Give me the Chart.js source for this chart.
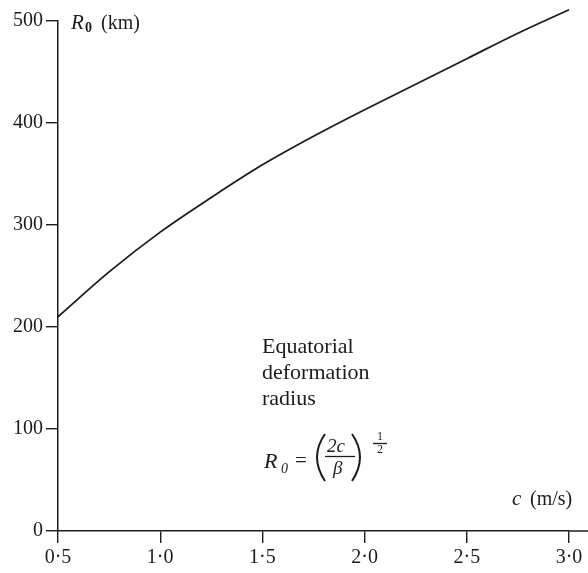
<!DOCTYPE html>
<html>
<head>
<meta charset="utf-8">
<script src="https://cdn.jsdelivr.net/npm/chart.js@4/dist/chart.umd.min.js"></script>
<style>
  html, body { margin: 0; padding: 0; background: #fff; }
  #wrap { width: 588px; height: 573px; }
</style>
</head>
<body>
<div id="wrap"><canvas id="radiusChart" width="588" height="573"></canvas></div>
<script>
// values
const speeds = [0.5, 0.75, 1.0, 1.25, 1.5, 1.75, 2.0, 2.25, 2.5, 2.75, 3.0];
const radii = [210, 254, 293, 327, 359, 387, 413, 438, 463, 488, 511];
const xTicks = [0.5, 1.0, 1.5, 2.0, 2.5, 3.0];
const yTicks = [0, 100, 200, 300, 400, 500];

const ink = "#1c1c1c";
const serif = "'Liberation Serif', 'DejaVu Serif', serif";

// text that sits on the figure (axis names, caption, formula)
const labelsPlugin = {
  id: "labels",
  afterDraw(chart) {
    const c = chart.ctx;
    const area = chart.chartArea;
    c.save();
    c.fillStyle = ink;
    c.strokeStyle = ink;
    c.textBaseline = "alphabetic";
    c.textAlign = "left";

    // x axis runs on to the page edge
    c.lineWidth = 1.5;
    c.beginPath();
    c.moveTo(area.right, area.bottom);
    c.lineTo(chart.width, area.bottom);
    c.stroke();

    // y axis name
    c.font = "italic 21px " + serif;
    c.fillText("R", 71, 29);
    c.font = "bold 14px " + serif;
    c.fillText("0", 85, 32);
    c.font = "20px " + serif;
    c.fillText("(km)", 101, 29);

    // x axis name
    c.font = "italic 21px " + serif;
    c.fillText("c", 512, 505);
    c.font = "20px " + serif;
    c.fillText("(m/s)", 530, 505);

    // caption
    c.font = "22px " + serif;
    c.fillText("Equatorial", 262, 353);
    c.fillText("deformation", 262, 379);
    c.fillText("radius", 262, 405);

    // formula
    c.font = "italic 22px " + serif;
    c.fillText("R", 264, 468);
    c.font = "italic 14px " + serif;
    c.fillText("0", 281, 473);
    c.font = "21px " + serif;
    c.fillText("=", 295, 467);

    c.lineWidth = 2;
    c.beginPath();
    c.moveTo(325, 434);
    c.quadraticCurveTo(309, 457, 325, 481);
    c.stroke();
    c.beginPath();
    c.moveTo(352, 434);
    c.quadraticCurveTo(368, 457, 352, 481);
    c.stroke();

    c.font = "italic 19px " + serif;
    c.fillText("2c", 327, 452);
    c.fillText("\u03B2", 333, 474);
    c.lineWidth = 1.3;
    c.beginPath();
    c.moveTo(325, 456.5);
    c.lineTo(355, 456.5);
    c.stroke();
    c.font = "12px " + serif;
    c.fillText("1", 377, 440);
    c.fillText("2", 377, 453);
    c.beginPath();
    c.moveTo(373, 443.5);
    c.lineTo(387, 443.5);
    c.stroke();
    c.restore();
  }
};

const ctx = document.getElementById("radiusChart").getContext("2d");
const chart = new Chart(ctx, {
  type: "line",
  data: {
    datasets: [{
      data: speeds.map((s, i) => ({ x: s, y: radii[i] })),
      borderColor: ink,
      borderWidth: 1.8,
      pointRadius: 0,
      cubicInterpolationMode: "monotone",
      fill: false,
      clip: false
    }]
  },
  options: {
    responsive: false,
    animation: false,
    layout: { padding: { top: 21, right: 19, left: 0, bottom: 0 } },
    plugins: { legend: { display: false }, tooltip: { enabled: false } },
    scales: {
      x: {
        type: "linear",
        min: 0.5,
        max: 3.0,
        afterBuildTicks: (scale) => { scale.ticks = xTicks.map(v => ({ value: v })); },
        afterFit: (scale) => { scale.height = 42; },
        grid: { drawOnChartArea: false, drawTicks: true, tickLength: 12, color: ink, lineWidth: 1.4 },
        border: { display: true, color: ink, width: 1.5 },
        ticks: {
          autoSkip: false,
          maxRotation: 0,
          padding: 3,
          color: ink,
          font: { family: serif, size: 20 },
          callback: (v) => Number(v).toFixed(1).replace(".", "\u00B7")
        }
      },
      y: {
        min: 0,
        max: 500,
        afterBuildTicks: (scale) => { scale.ticks = yTicks.map(v => ({ value: v })); },
        afterFit: (scale) => { scale.width = 58; },
        grid: { drawOnChartArea: false, drawTicks: true, tickLength: 12, color: ink, lineWidth: 1.4 },
        border: { display: true, color: ink, width: 1.5 },
        ticks: {
          autoSkip: false,
          padding: 3,
          color: ink,
          font: { family: serif, size: 20 }
        }
      }
    }
  },
  plugins: [labelsPlugin]
});
</script>
</body>
</html>
